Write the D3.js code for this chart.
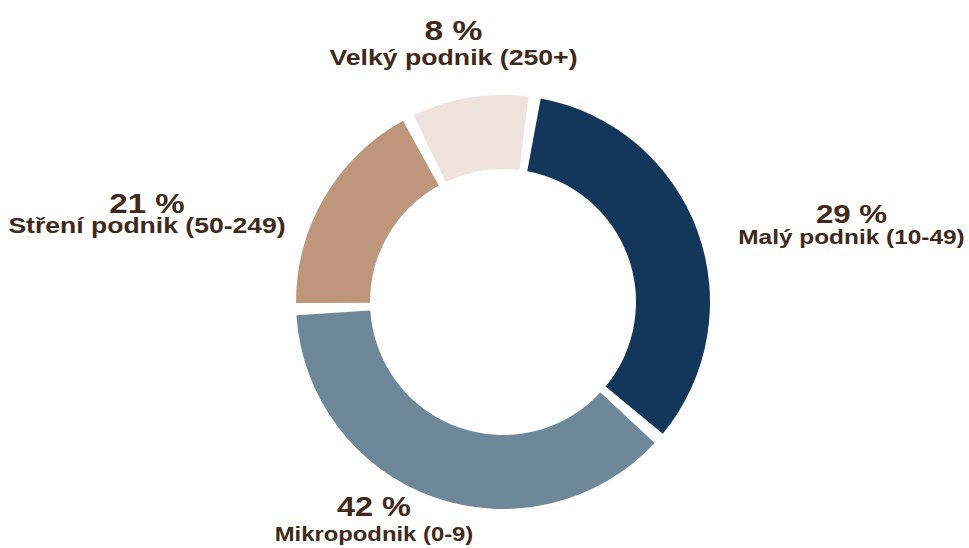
<!DOCTYPE html>
<html><head><meta charset="utf-8">
<script src="https://cdn.jsdelivr.net/npm/d3@7"></script>
<style>html,body{margin:0;padding:0;background:#fff;} svg{display:block}</style>
</head><body>
<svg id="chart" width="969" height="548"></svg>
<script>
// ---- data ----
const categories = ["Malý podnik (10-49)", "Mikropodnik (0-9)", "Stření podnik (50-249)", "Velký podnik (250+)"];
const sliceValues = [34, 38, 18, 10];            // arc shares as drawn in the picture
const percentLabels = ["29 %", "42 %", "21 %", "8 %"]; // printed labels
const colors = ["#12375a", "#6e8799", "#bd967c", "#f0e2dc"];

// ---- layout ----
const W = 969, H = 548;
const cx = 503, cy = 302, rOuter = 207, rInner = 133;
const startDeg = 8.8, gapDeg = 1.7;
const textColor = "#40291a";
const stretch = 1.18;
// label block positions: [x, percent baseline, name baseline, percent size, name size]
const labelLayout = [
  [851.5, 223, 244, 26.5, 20.7],
  [374,   516, 541, 27.5, 20.2],
  [147,   212.5, 233, 28, 22.5],
  [453.5, 40,  65,  28.5, 22.6]
];

const svg = d3.select("#chart");
const toRad = d => d * Math.PI / 180;

const pie = d3.pie().sort(null).value(d => d.v)
  .startAngle(toRad(startDeg)).endAngle(toRad(startDeg + 360));
const arc = d3.arc().innerRadius(rInner).outerRadius(rOuter);

const data = categories.map((c, i) => ({c, v: sliceValues[i], p: percentLabels[i], i}));
const arcs = pie(data).map(a => Object.assign({}, a, {
  startAngle: a.startAngle + toRad(gapDeg),
  endAngle: a.endAngle - toRad(gapDeg)
}));

const g = svg.append("g").attr("transform", `translate(${cx},${cy})`);
g.selectAll("path").data(arcs).join("path")
  .attr("d", arc)
  .attr("fill", d => colors[d.data.i]);

const labels = svg.selectAll("g.lbl").data(data).join("g").attr("class", "lbl")
  .attr("font-family", "'Liberation Sans', Arial, sans-serif")
  .attr("font-weight", "bold")
  .attr("fill", textColor)
  .attr("text-anchor", "middle");

labels.append("text")
  .attr("transform", d => `translate(${labelLayout[d.i][0]},${labelLayout[d.i][1]}) scale(${stretch},1)`)
  .attr("font-size", d => labelLayout[d.i][3])
  .text(d => d.p);
labels.append("text")
  .attr("transform", d => `translate(${labelLayout[d.i][0]},${labelLayout[d.i][2]}) scale(${stretch},1)`)
  .attr("font-size", d => labelLayout[d.i][4])
  .text(d => d.c);
</script>
</body></html>
